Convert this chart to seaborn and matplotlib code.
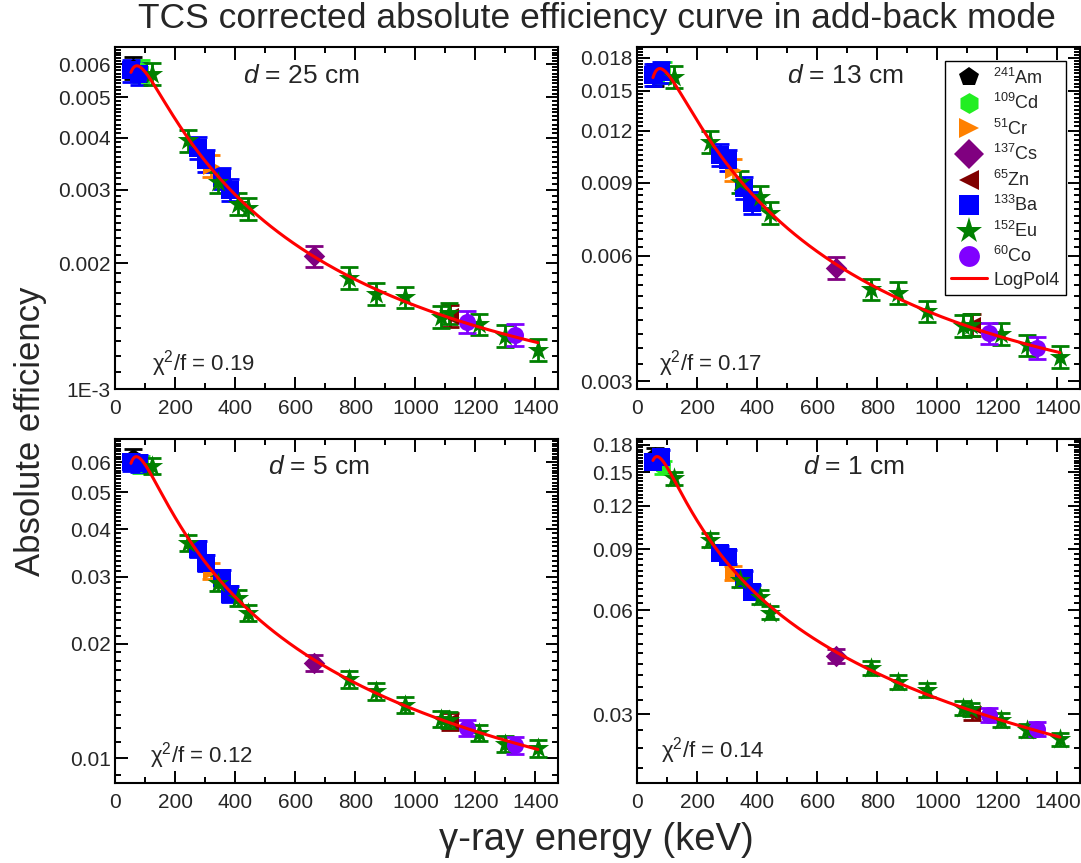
import numpy as np
import pandas as pd
import matplotlib
matplotlib.use("Agg")
import matplotlib.pyplot as plt
import seaborn as sns
from matplotlib.lines import Line2D
from matplotlib.ticker import FixedLocator, FixedFormatter, NullFormatter, MultipleLocator

# ---------------- data ----------------
SOURCES = ["241Am", "109Cd", "51Cr", "137Cs", "65Zn", "133Ba", "152Eu", "60Co"]
LEGEND_LABELS = [r"$^{241}$Am", r"$^{109}$Cd", r"$^{51}$Cr", r"$^{137}$Cs",
                 r"$^{65}$Zn", r"$^{133}$Ba", r"$^{152}$Eu", r"$^{60}$Co"]
COLORS = ["#000000", "#22EE22", "#FF8000", "#800080", "#800000", "#0000FF", "#008000", "#8000FF"]
MARKERS = ["p", "h", ">", "D", "<", "s", "*", "o"]

E_AM = [59.5]
E_CD = [88.0]
E_CR = [320.1]
E_CS = [661.7]
E_ZN = [1115.5]
E_BA = [53.2, 81.0, 276.4, 302.9, 356.0, 383.8]
E_EU = [121.8, 244.7, 344.3, 411.1, 444.0, 778.9, 867.4, 964.1, 1085.8, 1112.1, 1212.9, 1299.1, 1408.0]
E_CO = [1173.2, 1332.5]

# d = 25 cm
AM_25 = [0.0059]
CD_25 = [0.0058]
CR_25 = [0.00343]
CS_25 = [0.00208]
ZN_25 = [0.00150]
BA_25 = [0.0058, 0.0057, 0.00379, 0.00353, 0.00320, 0.00300]
EU_25 = [0.0057, 0.00394, 0.00313, 0.00278, 0.00271, 0.00185, 0.00169, 0.00166, 0.00149, 0.00152, 0.00143, 0.00134, 0.00124]
CO_25 = [0.00145, 0.00135]

# d = 13 cm
AM_13 = [0.0164]
CD_13 = [0.0166]
CR_13 = [0.00967]
CS_13 = [0.00562]
ZN_13 = [0.00410]
BA_13 = [0.0164, 0.0166, 0.0105, 0.0102, 0.00875, 0.00806]
EU_13 = [0.0162, 0.0113, 0.00904, 0.00832, 0.00762, 0.00499, 0.00489, 0.00442, 0.00407, 0.00410, 0.00390, 0.00366, 0.00343]
CO_13 = [0.00391, 0.00361]

# d = 5 cm
AM_5 = [0.0617]
CD_5 = [0.0592]
CR_5 = [0.0311]
CS_5 = [0.0178]
ZN_5 = [0.0125]
BA_5 = [0.0600, 0.0595, 0.0355, 0.0326, 0.0298, 0.0270]
EU_5 = [0.0587, 0.0368, 0.0289, 0.0264, 0.0241, 0.0161, 0.0150, 0.0138, 0.0127, 0.0126, 0.01165, 0.0109, 0.0106]
CO_5 = [0.0120, 0.0108]

# d = 1 cm
AM_1 = [0.168]
CD_1 = [0.155]
CR_1 = [0.0767]
CS_1 = [0.0442]
ZN_1 = [0.0302]
BA_1 = [0.161, 0.166, 0.0877, 0.0855, 0.0742, 0.0677]
EU_1 = [0.144, 0.0956, 0.0733, 0.0655, 0.0590, 0.0408, 0.0372, 0.0353, 0.0313, 0.0310, 0.0289, 0.0270, 0.0254]
CO_1 = [0.0299, 0.0272]

REL_ERR = [0.06, 0.06, 0.05, 0.045]
DIST_LABELS = ["25", "13", "5", "1"]
CHI2 = ["0.19", "0.17", "0.12", "0.14"]

Y_MAJOR = [[0.001, 0.002, 0.003, 0.004, 0.005, 0.006],
           [0.003, 0.006, 0.009, 0.012, 0.015, 0.018],
           [0.01, 0.02, 0.03, 0.04, 0.05, 0.06],
           [0.03, 0.06, 0.09, 0.12, 0.15, 0.18]]
Y_LABELS = [["1E-3", "0.002", "0.003", "0.004", "0.005", "0.006"],
            ["0.003", "0.006", "0.009", "0.012", "0.015", "0.018"],
            ["0.01", "0.02", "0.03", "0.04", "0.05", "0.06"],
            ["0.03", "0.06", "0.09", "0.12", "0.15", "0.18"]]
Y_MINOR_STEP = [0.0001, 0.0003, 0.001, 0.003]
Y_LIMS = [(0.001, 0.0066), (0.00287, 0.0191), (0.0086, 0.069), (0.0190, 0.187)]
X_TICKS = [0, 200, 400, 600, 800, 1000, 1200, 1400]

ENERGIES = [E_AM, E_CD, E_CR, E_CS, E_ZN, E_BA, E_EU, E_CO]
PANEL_EFF = [
    [AM_25, CD_25, CR_25, CS_25, ZN_25, BA_25, EU_25, CO_25],
    [AM_13, CD_13, CR_13, CS_13, ZN_13, BA_13, EU_13, CO_13],
    [AM_5, CD_5, CR_5, CS_5, ZN_5, BA_5, EU_5, CO_5],
    [AM_1, CD_1, CR_1, CS_1, ZN_1, BA_1, EU_1, CO_1],
]

# ---------------- style ----------------
sns.set_theme(style="ticks")
plt.rcParams["font.family"] = ["Liberation Sans", "DejaVu Sans"]
plt.rcParams["mathtext.fontset"] = "custom"
plt.rcParams["mathtext.rm"] = "Liberation Sans"
plt.rcParams["mathtext.it"] = "Liberation Sans:italic"
plt.rcParams["mathtext.bf"] = "Liberation Sans:bold"

fig = plt.figure(figsize=(10.81, 8.63), dpi=100)
W, H = 1081, 863
boxes = [(115, 47, 558, 389), (637, 47, 1080, 389), (115, 439, 558, 783), (637, 439, 1080, 783)]
d_pos = [(0.42, 0.915), (0.47, 0.915), (0.46, 0.92), (0.49, 0.92)]
chi_pos = [(0.083, 0.075), (0.05, 0.075), (0.078, 0.08), (0.055, 0.095)]
MSIZE = {"p": 150, "h": 150, ">": 150, "D": 120, "<": 150, "s": 170, "*": 260, "o": 150}

for i, (x0, y0, x1, y1) in enumerate(boxes):
    ax = fig.add_axes([x0 / W, 1 - y1 / H, (x1 - x0) / W, (y1 - y0) / H])
    ax.set_yscale("log")
    effs = PANEL_EFF[i]
    rows = []
    for s, en, ef in zip(SOURCES, ENERGIES, effs):
        for e, v in zip(en, ef):
            rows.append({"source": s, "energy": e, "eff": v})
    df = pd.DataFrame(rows)

    for k, s in enumerate(SOURCES):
        sub = df[df.source == s]
        ax.errorbar(sub.energy, sub.eff, yerr=sub.eff * REL_ERR[i], fmt="none",
                    ecolor=COLORS[k], elinewidth=2.0, capsize=6.5, capthick=2.0, zorder=2)
        sns.scatterplot(data=sub, x="energy", y="eff", ax=ax, marker=MARKERS[k],
                        color=COLORS[k], s=MSIZE[MARKERS[k]],
                        edgecolor=COLORS[k], linewidth=0, zorder=3, legend=False)

    # LogPol4 fit: 4th-order polynomial in ln(E) for ln(eff)
    coef = np.polyfit(np.log(df.energy), np.log(df.eff), 4)
    e_fit = np.geomspace(df.energy.min(), df.energy.max(), 300)
    fit_df = pd.DataFrame({"energy": e_fit, "eff": np.exp(np.polyval(coef, np.log(e_fit)))})
    sns.lineplot(data=fit_df, x="energy", y="eff", ax=ax, color="#FF0000", lw=2.2, zorder=4)

    ax.set_xlim(0, 1475)
    ax.set_ylim(*Y_LIMS[i])
    ax.xaxis.set_major_locator(FixedLocator(X_TICKS))
    ax.xaxis.set_minor_locator(MultipleLocator(100))
    ax.yaxis.set_major_locator(FixedLocator(Y_MAJOR[i]))
    ax.yaxis.set_major_formatter(FixedFormatter(Y_LABELS[i]))
    step = Y_MINOR_STEP[i]
    minors = np.arange(step, Y_LIMS[i][1], step)
    minors = [m for m in minors if m >= Y_LIMS[i][0] and min(abs(m - t) for t in Y_MAJOR[i]) > step * 0.1]
    ax.yaxis.set_minor_locator(FixedLocator(minors))
    ax.yaxis.set_minor_formatter(NullFormatter())
    ax.tick_params(which="both", direction="in", top=True, right=True, labelsize=15, width=1.4, color="black")
    ax.tick_params(which="major", length=9)
    ax.tick_params(which="minor", length=4.5)
    ax.tick_params(axis="x", pad=7)
    ax.tick_params(axis="y", pad=3)
    for sp in ax.spines.values():
        sp.set_linewidth(1.5)
        sp.set_color("black")
    ax.set_xlabel("")
    ax.set_ylabel("")

    ax.text(d_pos[i][0], d_pos[i][1], r"$d$ = " + DIST_LABELS[i] + " cm", transform=ax.transAxes,
            ha="center", va="center", fontsize=19)
    ax.text(chi_pos[i][0], chi_pos[i][1], "χ$^2$/f = " + CHI2[i], transform=ax.transAxes,
            ha="left", va="center", fontsize=16)

    if i == 1:
        handles = [Line2D([], [], ls="none", marker=m, color=c, markersize=(20 if m == "*" else 15),
                          markeredgewidth=0) for m, c in zip(MARKERS, COLORS)]
        handles.append(Line2D([], [], color="#FF0000", lw=2.2))
        leg = ax.legend(handles, LEGEND_LABELS + ["LogPol4"], loc="upper right",
                        bbox_to_anchor=(0.968, 0.958), fontsize=13, frameon=True, fancybox=False,
                        edgecolor="black", framealpha=1, labelspacing=0.3, handlelength=2.0,
                        handletextpad=0.35, borderpad=0.35, borderaxespad=0)
        leg.get_frame().set_linewidth(1.0)

fig.text(0.552, 0.978, "TCS corrected absolute efficiency curve in add-back mode",
         ha="center", va="center", fontsize=25.5)
fig.text(0.028, 0.5, "Absolute efficiency", rotation=90, ha="center", va="center", fontsize=25)
fig.text(0.552, 0.027, "γ-ray energy (keV)", ha="center", va="center", fontsize=27.5)

fig.savefig("out.png", dpi=100)
